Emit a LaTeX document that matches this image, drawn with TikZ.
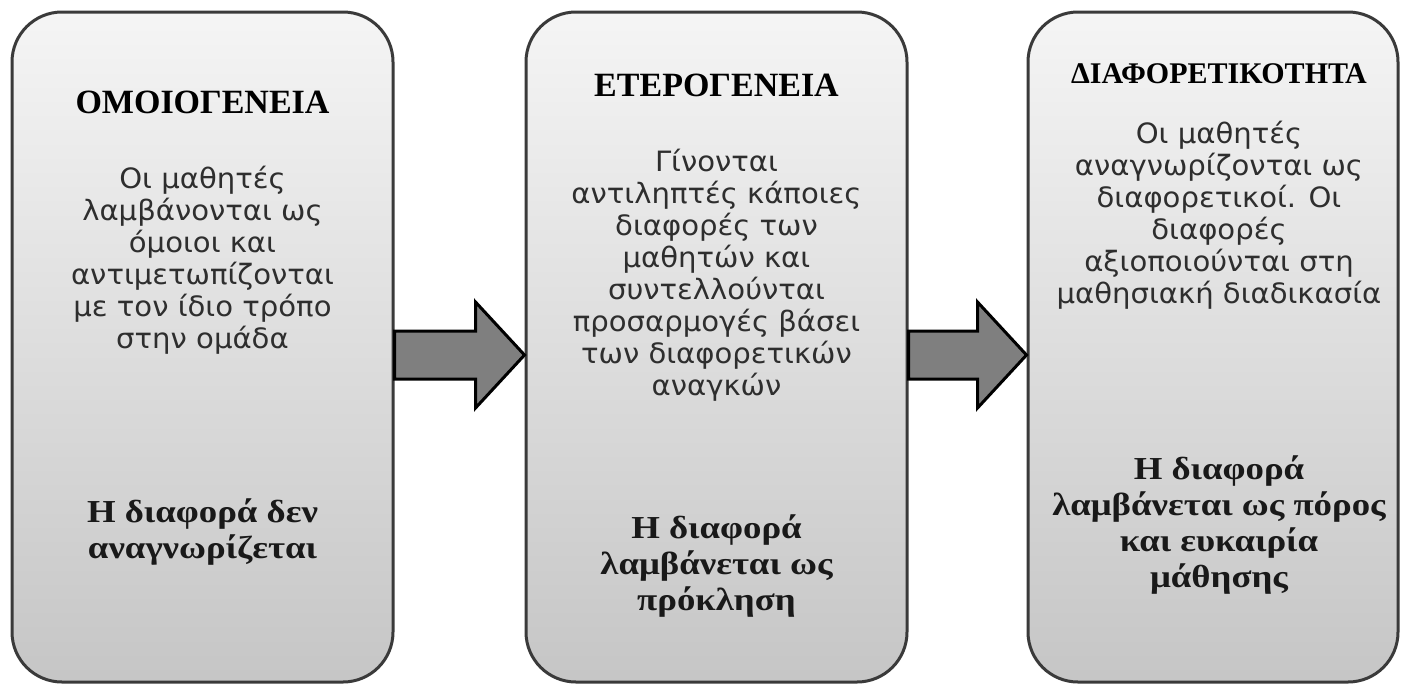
\documentclass[tikz,border=0pt]{standalone}
\usepackage{fontspec}
\setmainfont{Liberation Serif}
\newfontfamily\bodyfont[FakeStretch=1.04]{DejaVu Sans}
\newfontfamily\verdictfont[FakeStretch=1.15]{Liberation Serif}
\usetikzlibrary{calc}

\definecolor{boxline}{HTML}{3A3A3A}
\definecolor{arrowfill}{HTML}{7F7F7F}
\definecolor{bodyink}{HTML}{2E2E2E}

\tikzset{
  phase/.style={draw=boxline, line width=1.5pt, rounded corners=25pt,
    top color=gray!8, bottom color=gray!45, minimum height=335pt},
  heading/.style={font=\bfseries\fontsize{17}{19}\selectfont, inner sep=0pt},
  bodytext/.style={align=center, text=bodyink, inner sep=0pt,
    font=\bodyfont\fontsize{14}{16}\selectfont},
  verdict/.style={align=center, text=black!90, inner sep=0pt,
    font=\verdictfont\bfseries\fontsize{16}{18}\selectfont},
  blockarrow/.style={draw=black, fill=arrowfill, line width=1.5pt, line join=miter}
}

\begin{document}
\begin{tikzpicture}[x=1pt,y=1pt]
\useasboundingbox (0,0) rectangle (702,-343.5);

% phases
\node[phase, minimum width=190.5pt] (b1) at (101.25,-173.5) {};
\node[phase, minimum width=190.5pt] (b2) at (358.25,-173.5) {};
\node[phase, minimum width=185pt] (b3) at (606.5,-173.5) {};

% arrows between phases
\foreach \s/\t in {b1/b2,b2/b3}
  \draw[blockarrow] ($(\s.east)+(0,8)$) -- ($(\t.west)+(-24.5,8)$)
    -- ($(\t.west)+(-24.5,22.5)$) -- ($(\t.west)+(0,-4)$)
    -- ($(\t.west)+(-24.5,-30.5)$) -- ($(\t.west)+(-24.5,-16)$)
    -- ($(\s.east)+(0,-16)$) -- cycle;

% homogeneity
\node[heading] (h1) at (101.25,-51) {ΟΜΟΙΟΓΕΝΕΙΑ};
\node[bodytext] (d1) at (101.25,-130) {Οι μαθητές\\ λαμβάνονται ως\\ όμοιοι και\\
  αντιμετωπίζονται\\ με τον ίδιο τρόπο\\ στην ομάδα};
\node[verdict] (v1) at (101.25,-266) {Η διαφορά δεν\\ αναγνωρίζεται};

% heterogeneity
\node[heading] (h2) at (358.25,-42.5) {ΕΤΕΡΟΓΕΝΕΙΑ};
\node[bodytext] (d2) at (358.25,-137.5) {Γίνονται\\ αντιληπτές κάποιες\\ διαφορές των\\
  μαθητών και\\ συντελλούνται\\ προσαρμογές βάσει\\ των διαφορετικών\\ αναγκών};
\node[verdict] (v2) at (358.25,-283) {Η διαφορά\\ λαμβάνεται ως\\ πρόκληση};

% diversity
\node[heading, font=\bfseries\fontsize{15}{17}\selectfont] (h3) at (609.5,-37) {ΔΙΑΦΟΡΕΤΙΚΟΤΗΤΑ};
\node[bodytext] (d3) at (609.5,-107.5) {Οι μαθητές\\ αναγνωρίζονται ως\\ διαφορετικοί. Οι\\
  διαφορές\\ αξιοποιούνται στη\\ μαθησιακή διαδικασία};
\node[verdict] (v3) at (609.5,-262.5) {Η διαφορά\\ λαμβάνεται ως πόρος\\ και ευκαιρία\\ μάθησης};

\end{tikzpicture}
\end{document}
